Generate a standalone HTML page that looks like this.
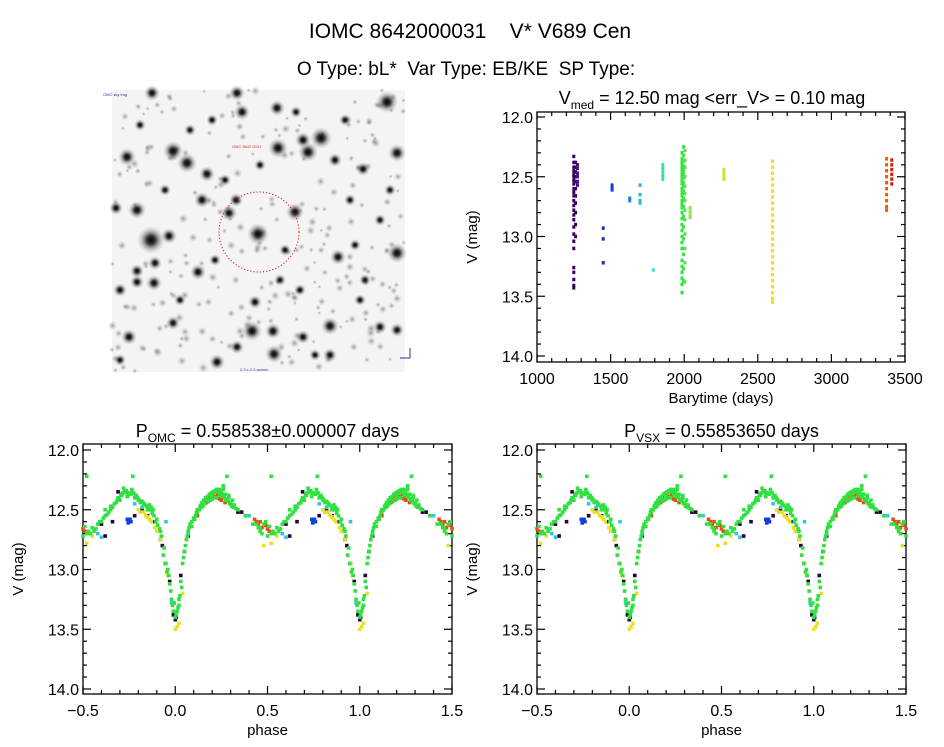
<!DOCTYPE html>
<html><head><meta charset="utf-8">
<style>
body{margin:0;background:#fff;}
svg{display:block;font-family:"Liberation Sans",sans-serif;}
</style></head>
<body>
<svg id="c" width="944" height="747" viewBox="0 0 944 747">
<defs>
<radialGradient id="star"><stop offset="0" stop-color="#000" stop-opacity="1"/><stop offset="0.3" stop-color="#111" stop-opacity="0.85"/><stop offset="0.65" stop-color="#555" stop-opacity="0.35"/><stop offset="1" stop-color="#999" stop-opacity="0"/></radialGradient>
<radialGradient id="faint"><stop offset="0" stop-color="#777" stop-opacity="0.7"/><stop offset="1" stop-color="#bbb" stop-opacity="0"/></radialGradient>
</defs>
<text x="470" y="38" font-size="21" text-anchor="middle" xml:space="preserve">IOMC 8642000031    V* V689 Cen</text>
<text x="466" y="75" font-size="19" text-anchor="middle" xml:space="preserve">O Type: bL*  Var Type: EB/KE  SP Type:</text>
<g id="img"></g>
<g id="p1"></g>
<g id="p2"></g>
<g id="p3"></g>
</svg>
<script>
// ---- time series data ----
const groupTimes=[1250,1262,1275,1450,1510,1630,1700,1790,1855,1985,1995,2005,2040,2270,2600,3375,3410];
const groupColors=["#3a0060","#3a0060","#4a1080","#2030a0","#1040e0","#2080e0","#30b0e0","#40e0d0","#30e0a0","#30e040","#40e040","#50e850","#90e050","#d0e030","#f0e020","#e06010","#d02010"];
const groupMags=[
[12.33,12.38,12.42,12.45,12.48,12.5,12.53,12.56,12.6,12.63,12.66,12.7,12.74,12.78,12.82,12.86,12.92,12.98,13.04,13.1,13.26,13.3,13.36,13.41,13.43],
[12.38,12.42,12.46,12.5,12.54,12.6,12.66,12.72,12.8,12.9,13.0],
[12.4,12.43,12.47,12.5,12.54,12.57],
[12.93,13.02,13.22],
[12.57,12.59,12.61],
[12.68,12.7],
[12.57,12.65,12.7,12.72],
[13.28],
[12.4,12.43,12.46,12.49,12.52],
[12.3,12.35,12.38,12.4,12.43,12.45,12.48,12.5,12.53,12.56,12.6,12.63,12.66,12.7,12.73,12.76,12.8,12.85,12.9,12.95,13.0,13.05,13.1,13.2,13.25,13.3,13.35,13.4,13.47],
[12.25,12.32,12.37,12.41,12.44,12.47,12.51,12.55,12.58,12.62,12.68,12.75,12.83,12.92,13.02,13.15,13.27,13.37],
[12.28,12.36,12.42,12.5,12.58,12.64,12.7,12.78,12.86,12.98,13.1,13.22,13.38],
[12.76,12.79,12.82,12.84],
[12.44,12.47,12.5,12.52],
[12.37,12.42,12.47,12.52,12.57,12.62,12.67,12.72,12.77,12.82,12.87,12.92,12.97,13.02,13.07,13.12,13.17,13.22,13.27,13.32,13.37,13.42,13.47,13.52,13.55],
[12.35,12.4,12.45,12.5,12.55,12.6,12.65,12.7,12.75,12.78],
[12.36,12.4,12.44,12.48,12.52,12.56]
];
// ---- phase data (phase in [0,1), mag) ----
const seriesColors=["#2a0040","#e8e020","#e05010","#1040e0","#30c8e0","#30e040"];
const seriesPhase=[
[0.0,0.005,0.99,0.97,0.95,0.93,0.90,0.88,0.85,0.82,0.69,0.78,0.34,0.36,0.62,0.66,0.03,0.05,0.07,0.6,0.92],
[0.80,0.83,0.86,0.89,0.92,0.95,0.98,0.0,0.02,0.04,0.40,0.48,0.52,0.55,0.96,0.01,0.84,0.87,0.81,0.85,0.9],
[0.12,0.15,0.18,0.20,0.22,0.25,0.28,0.30,0.43,0.45,0.47,0.50,0.17,0.21,0.24,0.27,0.32,0.44,0.49,0.19,0.23,0.26,0.46,0.51,0.14],
[0.74,0.75,0.76,0.745,0.755],
[0.58,0.60,0.95,0.07,0.78,0.40,0.98,0.82],
[0.0,0.01,0.02,0.03,0.04,0.05,0.06,0.07,0.08,0.10,0.12,0.14,0.16,0.18,0.20,0.22,0.24,0.26,0.28,0.30,0.32,0.34,0.38,0.42,0.46,0.50,0.54,0.58,0.62,0.66,0.70,0.74,0.76,0.78,0.82,0.86,0.88,0.90,0.92,0.94,0.96,0.97,0.98,0.99,
 0.55,0.45,0.48,0.52,0.02,0.995,0.77,0.8,0.28,0.52,0.69,0.72,0.24,0.26,0.11,0.13,0.15,0.19,0.21,0.23,0.25,0.27,0.29,0.31,0.64,0.68,0.71,0.73,0.75,0.79,0.81,0.83,0.85,0.87,0.09,0.035,0.965,0.56,0.47,0.6,0.985,0.015,
 0.09,0.105,0.115,0.125,0.135,0.145,0.155,0.165,0.175,0.185,0.195,0.205,0.215,0.225,0.235,0.245,0.255,0.265,0.275,0.285,0.295,0.305,0.315,0.33,
 0.59,0.61,0.63,0.65,0.67,0.685,0.695,0.705,0.715,0.725,0.735,0.765,0.775,0.785,0.795,0.805,0.815,0.825,0.835,0.845,0.855,0.865,0.875,0.885,0.895,0.905,0.915,0.925,
 0.44,0.46,0.49,0.51,0.53,0.57,0.045,0.055,0.065,0.075,0.935,0.945,0.955,0.975,0.005,0.025,
 0.12,0.14,0.17,0.2,0.23,0.26,0.29,0.62,0.65,0.68,0.71,0.74,0.77,0.8,0.83,0.86]
];
const seriesMag=[
[13.42,13.40,13.38,13.1,12.95,12.8,12.68,12.6,12.55,12.5,12.35,12.55,12.52,12.52,12.72,12.6,13.05,12.85,12.72,12.62,12.75],
[12.5,12.52,12.58,12.65,12.75,12.95,13.25,13.5,13.45,13.2,12.55,12.8,12.78,12.72,13.05,13.48,12.55,12.6,12.52,12.56,12.68],
[12.55,12.45,12.4,12.38,12.4,12.42,12.43,12.45,12.58,12.62,12.65,12.66,12.44,12.39,12.41,12.44,12.47,12.6,12.63,12.42,12.37,12.4,12.6,12.68,12.48],
[12.58,12.59,12.6,12.61,12.58],
[12.7,12.73,12.6,12.7,12.45,12.55,13.28,12.48],
[13.40,13.35,13.25,13.1,12.95,12.85,12.75,12.68,12.62,12.57,12.52,12.48,12.45,12.43,12.41,12.40,12.38,12.39,12.41,12.44,12.46,12.50,12.55,12.62,12.68,12.72,12.70,12.62,12.55,12.48,12.42,12.39,12.37,12.40,12.43,12.46,12.50,12.58,12.68,12.82,13.0,13.12,13.25,13.35,
 12.65,12.65,12.62,12.7,13.3,13.28,12.22,12.42,12.22,12.22,12.40,12.32,12.33,12.30,12.55,12.5,12.47,12.42,12.36,12.34,12.36,12.37,12.4,12.42,12.52,12.44,12.38,12.35,12.36,12.38,12.44,12.45,12.5,12.48,12.6,13.15,13.05,12.68,12.7,12.6,13.3,13.32,
 12.64,12.58,12.52,12.5,12.47,12.44,12.42,12.4,12.39,12.37,12.36,12.35,12.34,12.33,12.35,12.36,12.38,12.4,12.42,12.43,12.45,12.47,12.48,12.49,
 12.6,12.57,12.54,12.5,12.45,12.42,12.4,12.38,12.36,12.35,12.34,12.33,12.36,12.38,12.4,12.42,12.43,12.44,12.46,12.47,12.49,12.5,12.53,12.55,12.6,12.63,12.66,12.72,
 12.62,12.66,12.6,12.64,12.68,12.66,12.9,12.8,12.72,12.65,12.88,12.95,13.02,13.18,13.38,13.22,
 12.5,12.46,12.41,12.38,12.35,12.33,12.38,12.5,12.47,12.44,12.37,12.36,12.36,12.41,12.45,12.5]
];
// ---- sky image (not chart data) ----
const starsXYR=[[387,102,11],[321,138,11],[308,152,10],[303,140,8],[278,148,10],[173,151,10],[187,163,10],[127,157,9],[207,174,8],[137,210,9],[151,240,14],[169,236,8],[258,234,11],[229,213,8],[295,212,9],[397,253,10],[397,153,9],[202,200,8],[242,112,8],[277,108,8],[335,160,7],[252,331,10],[330,326,9],[273,331,8],[274,354,9],[217,362,8],[198,272,8],[154,283,8],[137,271,7],[137,282,7],[155,263,7],[129,337,8],[380,327,7],[397,330,7],[338,257,8],[303,337,7],[237,347,7],[255,302,7],[173,323,7],[120,290,7],[116,208,7],[363,169,7],[152,93,8],[237,93,8],[330,355,7],[360,300,6],[180,300,6],[300,290,6],[225,180,6],[350,200,6],[380,220,6],[120,360,6],[390,190,6],[355,245,6],[285,250,6],[215,260,6],[165,190,6],[140,125,6],[190,130,6],[260,165,6],[345,120,6],[365,280,6],[315,355,6],[280,280,6],[236,200,7],[296,112,6],[212,120,6]];

const NS="http://www.w3.org/2000/svg";
function mk(parent,tag,attrs){const e=document.createElementNS(NS,tag);for(const k in attrs)e.setAttribute(k,attrs[k]);parent.appendChild(e);return e;}

// sky image
const img=document.getElementById('img');
const bg=mk(img,'rect',{x:112,y:90,width:293,height:282,fill:'#f4f4f4'});


let seed=7;function rnd(){seed=(seed*16807)%2147483647;return seed/2147483647;}
for(let i=0;i<260;i++){const c=mk(img,'circle',{cx:112+rnd()*293,cy:90+rnd()*282,r:2+rnd()*3,fill:'url(#faint)'});

}
starsXYR.forEach(s=>{const c=mk(img,'circle',{cx:s[0],cy:s[1],r:s[2],fill:'url(#star)'});

});
const ring=mk(img,'circle',{cx:259,cy:232,r:40,fill:'none',stroke:'#c02020','stroke-width':1,'stroke-dasharray':'1.2 2'});


mk(img,'text',{x:232,y:148,'font-size':4,fill:'#c03030'}).textContent='OMC 8642 0031';
mk(img,'text',{x:103,y:96,'font-size':4,fill:'#2030a0'}).textContent='OMC sky img';
mk(img,'text',{x:240,y:371,'font-size':4,fill:'#2030a0'}).textContent='2.3 x 2.3 arcmin';
mk(img,'line',{x1:410,y1:348,x2:410,y2:358,stroke:'#2030a0'});
mk(img,'line',{x1:400,y1:358,x2:410,y2:358,stroke:'#2030a0'});

function axes(g,box,xr,yr,xMaj,xMin,yMaj,yMin,xfmt,yfmt,xlabel,ylabel){
  const sx=v=>box.x0+(v-xr[0])/(xr[1]-xr[0])*(box.x1-box.x0);
  const sy=v=>box.y0+(v-yr[0])/(yr[1]-yr[0])*(box.y1-box.y0);
  const fr=mk(g,'rect',{x:box.bx0,y:box.by0,width:box.bx1-box.bx0,height:box.by1-box.by0,fill:'none',stroke:'#000','stroke-width':1.3});
  
  
  const eps=1e-9;
  for(let v=xr[0];v<=xr[1]+eps;v+=xMin){const x=sx(v);const maj=Math.abs(Math.round(v/xMaj)*xMaj-v)<1e-6;const L=maj?8:4;
    mk(g,'line',{x1:x,y1:box.by1,x2:x,y2:box.by1-L,stroke:'#000','stroke-width':1.2});
    mk(g,'line',{x1:x,y1:box.by0,x2:x,y2:box.by0+L,stroke:'#000','stroke-width':1.2});
    if(maj){const t=mk(g,'text',{x:x,y:box.by1+22,'font-size':16,'text-anchor':'middle'});t.textContent=xfmt(v);
      
      }}
  for(let v=yr[0];v<=yr[1]+eps;v+=yMin){const y=sy(v);const maj=Math.abs(Math.round(v/yMaj)*yMaj-v)<1e-6;const L=maj?8:4;
    mk(g,'line',{x1:box.bx0,y1:y,x2:box.bx0+L,y2:y,stroke:'#000','stroke-width':1.2});
    mk(g,'line',{x1:box.bx1,y1:y,x2:box.bx1-L,y2:y,stroke:'#000','stroke-width':1.2});
    if(maj){const t=mk(g,'text',{x:box.bx0-4,y:y+6,'font-size':16,'text-anchor':'end'});t.textContent=yfmt(v);
      
      }}
  const xl=mk(g,'text',{x:(box.bx0+box.bx1)/2,y:box.by1+41,'font-size':15,'text-anchor':'middle'});xl.textContent=xlabel;
  
  
  const cy=(box.by0+box.by1)/2;const yl=mk(g,'text',{x:box.bx0-60,y:cy,'font-size':15,'text-anchor':'middle',transform:`rotate(-90 ${box.bx0-60} ${cy})`});yl.textContent=ylabel;
  
  
  return {sx,sy};
}
function dot(g,x,y,col,w,h){const r=mk(g,'rect',{x:x-w/2,y:y-h/2,width:w,height:h,fill:col});
  
  }

// time plot
const p1=document.getElementById('p1');
const t1=mk(p1,'text',{x:712,y:104,'font-size':18,'text-anchor':'middle'});
t1.innerHTML='V<tspan font-size="12" dy="5">med</tspan><tspan dy="-5"> = 12.50 mag &lt;err_V&gt; = 0.10 mag</tspan>';


const A1=axes(p1,{x0:537,x1:905,y0:117,y1:356,bx0:537,bx1:905,by0:112,by1:362},[1000,3500],[12,14],500,100,0.5,0.1,v=>v.toFixed(0),v=>v.toFixed(1),'Barytime (days)','V (mag)');
groupTimes.forEach((t,i)=>groupMags[i].forEach(m=>dot(p1,A1.sx(t),A1.sy(m),groupColors[i],3,3.5)));

// phase plots
function phasePlot(id,x0,titleHtml){
  const g=document.getElementById(id);
  const t=mk(g,'text',{x:(x0+x0+369)/2,y:437,'font-size':18,'text-anchor':'middle'});
  t.innerHTML=titleHtml;
  
  
  const A=axes(g,{x0:x0,x1:x0+369,y0:450,y1:689,bx0:x0,bx1:x0+369,by0:444,by1:694},[-0.5,1.5],[12,14],0.5,0.1,0.5,0.1,v=>(Math.abs(v)<1e-9?0:v).toFixed(1).replace('-','\u2212'),v=>v.toFixed(1),'phase','V (mag)');
  seriesPhase.forEach((ph,i)=>ph.forEach((p,j)=>{const m=seriesMag[i][j];
    [p-1,p,p+1].forEach(q=>{if(q>=-0.5&&q<=1.5)dot(g,A.sx(q),A.sy(m),seriesColors[i],3.6,3.6);});}));
}
phasePlot('p2',83,'P<tspan font-size="12" dy="5">OMC</tspan><tspan dy="-5"> = 0.558538±0.000007 days</tspan>');
phasePlot('p3',537,'P<tspan font-size="12" dy="5">VSX</tspan><tspan dy="-5"> = 0.55853650 days</tspan>');
</script>
</body></html>
